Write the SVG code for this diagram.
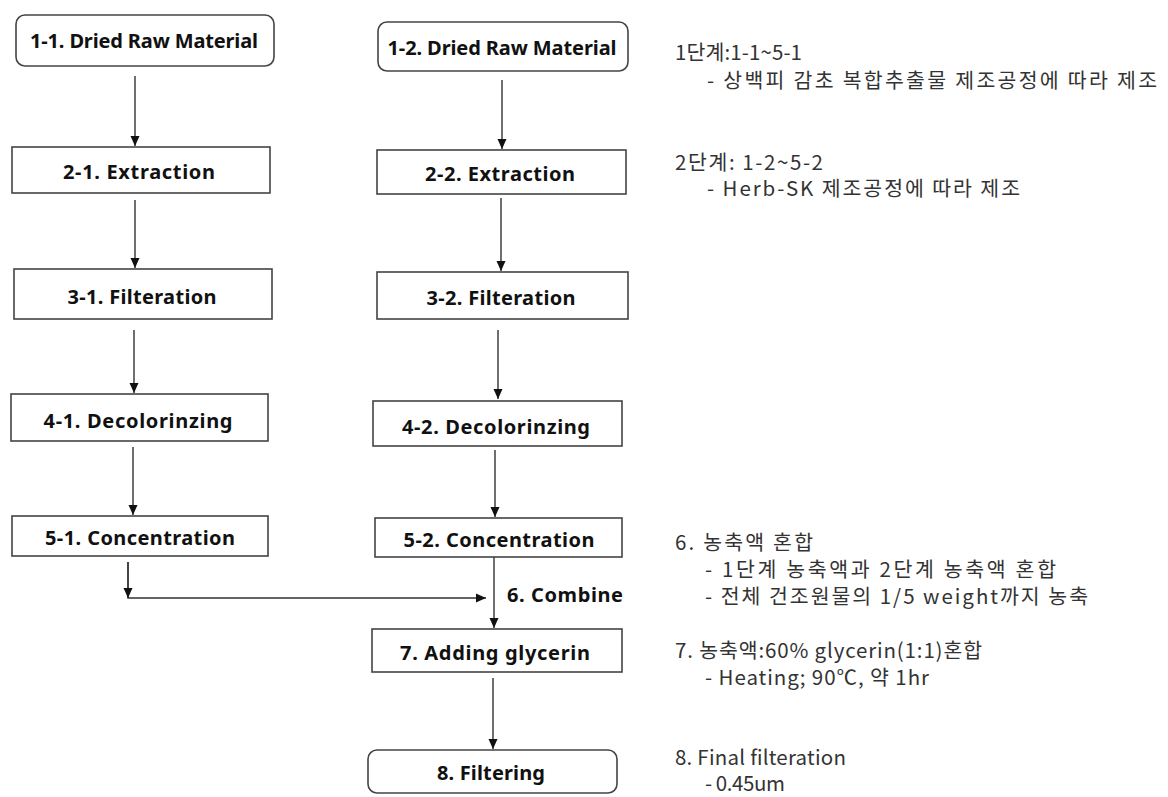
<svg xmlns="http://www.w3.org/2000/svg" width="1168" height="797" viewBox="0 0 1168 797">
<defs>
<marker id="ah" markerWidth="10" markerHeight="10" refX="10" refY="5" orient="auto" markerUnits="userSpaceOnUse">
<path d="M0,0.5 L10,5 L0,9.5 z" fill="#111"/>
</marker>
<style>
.box{fill:#fff;stroke:#444;stroke-width:1.6}
.lbl{font-family:"Noto Sans","Noto Sans CJK KR",sans-serif;font-weight:bold;font-size:20px;fill:#111;text-anchor:middle;dominant-baseline:central}
.note{font-family:"Noto Sans CJK KR","Noto Sans",sans-serif;font-size:20.5px;fill:#333}
.cn{fill:none;stroke:#333;stroke-width:1.4}
</style>
</defs>
<rect width="1168" height="797" fill="#fff"/>
<g id="connectors">
<line class="cn" x1="135" y1="76" x2="135" y2="146" marker-end="url(#ah)"/>
<line class="cn" x1="502" y1="80" x2="502" y2="149" marker-end="url(#ah)"/>
<line class="cn" x1="135" y1="200" x2="135" y2="268" marker-end="url(#ah)"/>
<line class="cn" x1="501" y1="198" x2="501" y2="271" marker-end="url(#ah)"/>
<line class="cn" x1="134" y1="330" x2="134" y2="393" marker-end="url(#ah)"/>
<line class="cn" x1="498" y1="330" x2="498" y2="399" marker-end="url(#ah)"/>
<line class="cn" x1="133" y1="447" x2="133" y2="515" marker-end="url(#ah)"/>
<line class="cn" x1="495" y1="450" x2="495" y2="517" marker-end="url(#ah)"/>
<polyline class="cn" points="128,562 128,598 486,598" marker-end="url(#ah)"/>
<line class="cn" x1="128" y1="562" x2="128" y2="598" marker-end="url(#ah)"/>
<line class="cn" x1="494" y1="557" x2="494" y2="628" marker-end="url(#ah)"/>
<line class="cn" x1="493" y1="678" x2="493" y2="749" marker-end="url(#ah)"/>
<text class="lbl" x="565" y="594" textLength="116">6. Combine</text>
</g>
<g id="n1-1"><rect class="box" x="16" y="15" width="258" height="51" rx="9"/><text class="lbl" x="144" y="40" textLength="228">1-1. Dried Raw Material</text></g>
<g id="n1-2"><rect class="box" x="378" y="22" width="250" height="49" rx="9"/><text class="lbl" x="502" y="47" textLength="229">1-2. Dried Raw Material</text></g>
<g id="n2-1"><rect class="box" x="12" y="147" width="258" height="46"/><text class="lbl" x="139" y="171" textLength="152">2-1. Extraction</text></g>
<g id="n2-2"><rect class="box" x="377" y="150" width="249" height="44"/><text class="lbl" x="500" y="173" textLength="150">2-2. Extraction</text></g>
<g id="n3-1"><rect class="box" x="14" y="269" width="258" height="50"/><text class="lbl" x="142" y="296" textLength="149">3-1. Filteration</text></g>
<g id="n3-2"><rect class="box" x="377" y="272" width="251" height="47"/><text class="lbl" x="501" y="297" textLength="149">3-2. Filteration</text></g>
<g id="n4-1"><rect class="box" x="11" y="394" width="257" height="47"/><text class="lbl" x="138" y="420" textLength="189">4-1. Decolorinzing</text></g>
<g id="n4-2"><rect class="box" x="373" y="401" width="249" height="45"/><text class="lbl" x="496" y="426" textLength="188">4-2. Decolorinzing</text></g>
<g id="n5-1"><rect class="box" x="12" y="516" width="256" height="40"/><text class="lbl" x="140" y="537" textLength="190">5-1. Concentration</text></g>
<g id="n5-2"><rect class="box" x="375" y="518" width="247" height="39"/><text class="lbl" x="499" y="539" textLength="191">5-2. Concentration</text></g>
<g id="n7"><rect class="box" x="372" y="629" width="250" height="43"/><text class="lbl" x="495" y="652" textLength="190">7. Adding glycerin</text></g>
<g id="n8"><rect class="box" x="368" y="750" width="249" height="43" rx="9"/><text class="lbl" x="491" y="772" textLength="108">8. Filtering</text></g>
<g id="notes">
<text class="note" x="675" y="60" textLength="127">1단계:1-1~5-1</text>
<text class="note" x="707" y="88" textLength="450">- 상백피 감초 복합추출물 제조공정에 따라 제조</text>
<text class="note" x="675" y="170" textLength="148">2단계: 1-2~5-2</text>
<text class="note" x="707" y="196" textLength="313">- Herb-SK 제조공정에 따라 제조</text>
<text class="note" x="675" y="550" textLength="138">6. 농축액 혼합</text>
<text class="note" x="705" y="577" textLength="351">- 1단계 농축액과 2단계 농축액 혼합</text>
<text class="note" x="705" y="604" textLength="383">- 전체 건조원물의 1/5 weight까지 농축</text>
<text class="note" x="675" y="658" textLength="307">7. 농축액:60% glycerin(1:1)혼합</text>
<text class="note" x="705" y="685" textLength="224">- Heating; 90℃, 약 1hr</text>
<text class="note" x="675" y="765" textLength="171">8. Final filteration</text>
<text class="note" x="705" y="791" textLength="80">- 0.45um</text>
</g>
</svg>
